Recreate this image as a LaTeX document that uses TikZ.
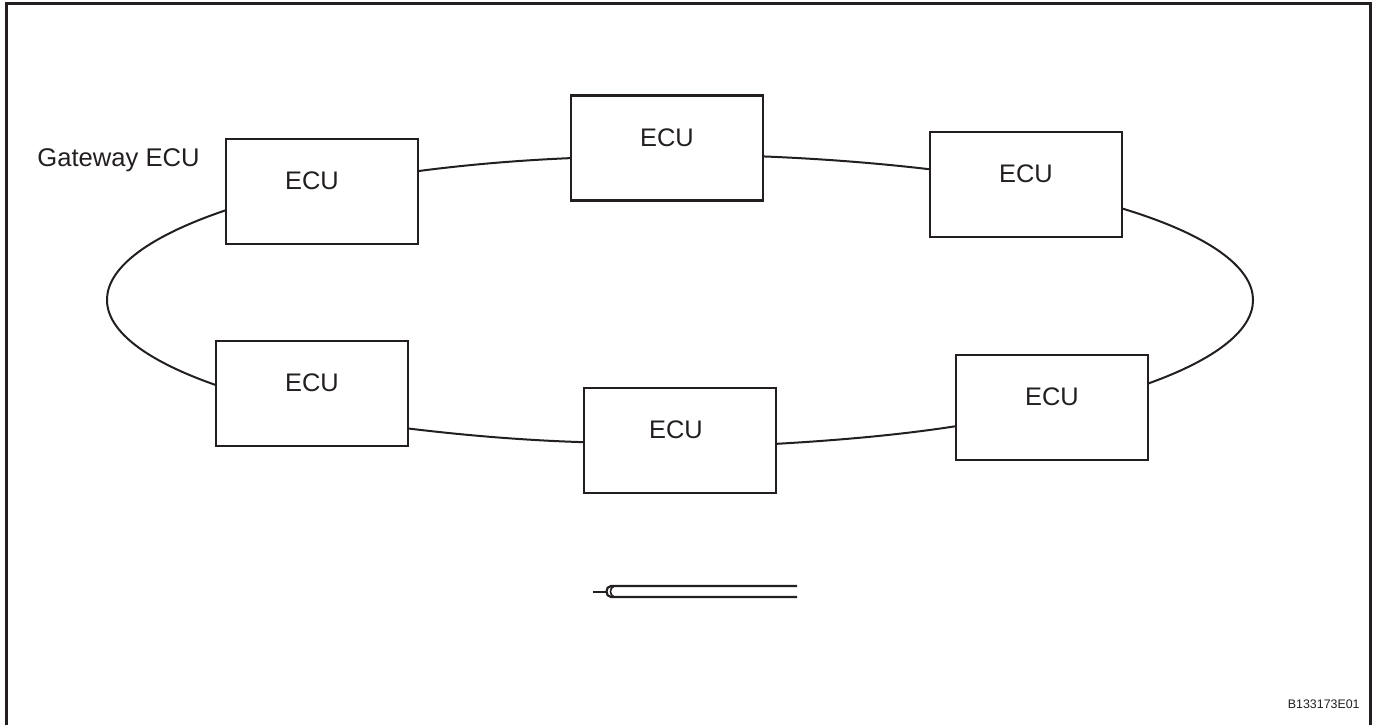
\documentclass[tikz,border=0pt]{standalone}
\usepackage{fontspec}
\setmainfont{Liberation Sans}
\definecolor{ink}{HTML}{231F20}
\begin{document}
\begin{tikzpicture}[x=0.5pt, y=-0.5pt, ink,
    ecu/.style={draw, line width=1.05pt, fill=white, minimum width=96pt, minimum height=52.5pt,
      inner sep=0pt, outer sep=0pt, text height=9pt, text depth=11pt, font=\fontsize{12.7}{15}\selectfont},
    bus/.style={line width=1pt}]
  \useasboundingbox (0,0) rectangle (1374,725);
  \draw [line width=1.5pt] (6,725) -- (6,3) -- (1370,3) -- (1370,725);
  % ring of ECUs
  \node [ecu] (gw) at (322,191.5) {ECU\kern10pt};
  \node [ecu] (n) at (667,148) {ECU};
  \node [ecu] (ne) at (1026,184.5) {ECU};
  \node [ecu] (se) at (1052,407.5) {ECU};
  \node [ecu] (s) at (680,440.5) {ECU\kern4pt};
  \node [ecu] (sw) at (312,393.5) {ECU};
  \node [anchor=base west, inner sep=0pt, font=\fontsize{12.8}{15}\selectfont] (gwlabel) at (37,166) {Gateway ECU};
  \draw [bus] (gw.12) .. controls (466.2,164.8) and (517.8,160.3) .. (n.186);
  \draw [bus] (n.355) .. controls (821.0,158.7) and (877.3,163.1) .. (ne.171);
  \draw [bus] (ne.346.4) .. controls (1286.5,258.2) and (1297.1,330.2) .. (se.14);
  \draw [bus] (se.191.5) .. controls (899.9,434.9) and (839.1,440.2) .. (s.358.5);
  \draw [bus] (s.181.5) .. controls (522.4,440.3) and (463.0,435.1) .. (sw.340.4);
  \draw [bus] (sw.175) .. controls (67.0,333.1) and (71.1,262.4) .. (gw.191.8);
  % wire symbol
  \draw [line width=1.1pt] (797,586) -- (611,586) .. controls (605,586) and (605,597) .. (611,597) -- (797,597);
  \draw [line width=0.8pt] (613.5,586.5) .. controls (609.5,588) and (609.5,595) .. (613.5,596.5);
  \draw [line width=1.1pt] (593,591.7) -- (605.5,591.7);
  \node [anchor=base east, inner sep=0pt, font=\fontsize{6.2}{8}\selectfont] (code) at (1360,708) {B133173E01};
\end{tikzpicture}
\end{document}
